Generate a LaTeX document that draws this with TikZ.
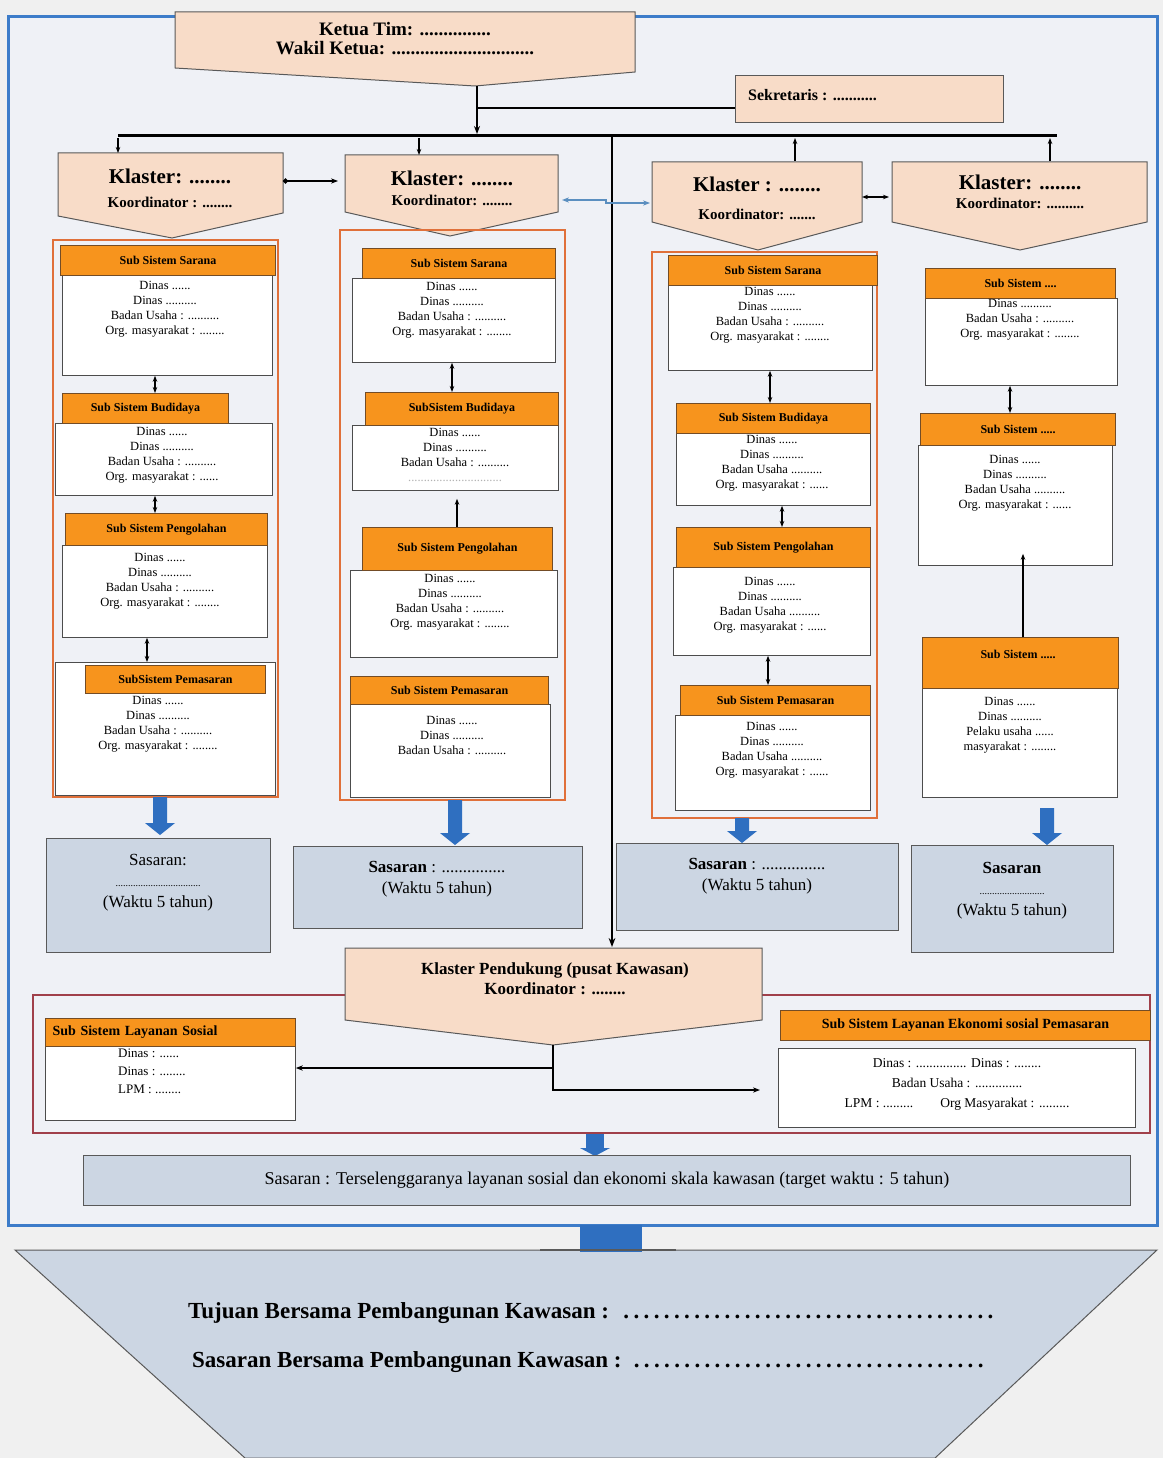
\documentclass[tikz,border=0pt]{standalone}
\usepackage{fontspec}
\setmainfont{Liberation Serif}
\usetikzlibrary{arrows.meta}
\definecolor{peach}{HTML}{F8DCC8}
\definecolor{orng}{HTML}{F7941D}
\definecolor{grp}{HTML}{E0703A}
\definecolor{sas}{HTML}{CCD6E3}
\definecolor{frameblue}{HTML}{3D7CC9}
\definecolor{bg}{HTML}{EFF1F6}
\definecolor{darkred}{HTML}{A0404A}
\definecolor{arrblue}{HTML}{2F6FC0}
\definecolor{steel}{HTML}{5B8FC0}
\newcommand\blkarrow[3]{%
 \fill[arrblue] (#1-7,#2) -- (#1+7,#2) -- (#1+7,#3-12) -- (#1+15,#3-12) -- (#1,#3) -- (#1-15,#3-12) -- (#1-7,#3-12) -- cycle;}
\newcommand\bannerpath[7]{%
 \filldraw[banner] (#1,#2) -- (#3,#2) -- (#3,#5) -- (#6,#7) -- (#1,#4) -- cycle;}
\begin{document}
\begin{tikzpicture}[x=1pt,y=-1pt,
  conn/.style={line width=1.2pt, draw=black},
  dbl/.style={conn, line width=1.6pt, {Stealth[length=6pt]}-{Stealth[length=6pt]}},
  banner/.style={fill=peach, draw=gray!70!black, line width=1pt},
  hdr/.style={draw=brown!60!black, fill=orng, line width=1pt, anchor=north west, inner sep=0pt, font=\fontsize{12}{14}\selectfont\bfseries},
  bodyb/.style={draw=gray!60!black, fill=white, line width=0.8pt, anchor=north west, inner sep=0pt},
  btxt/.style={anchor=north, align=center, inner sep=0pt, font=\fontsize{12.5}{15}\selectfont},
  grpbox/.style={draw=grp, line width=2pt},
  sasbox/.style={draw=gray!70!black, fill=sas, line width=1pt, anchor=north west, inner sep=0pt},
  stxt/.style={anchor=north, align=center, inner sep=0pt, font=\fontsize{17}{21}\selectfont},
  kt/.style={inner sep=0pt, font=\fontsize{21}{24}\selectfont\bfseries},
  kc/.style={inner sep=0pt, font=\fontsize{15}{17}\selectfont\bfseries},
]
\useasboundingbox (0,0) rectangle (1163,1458);
\fill[gray!12] (0,0) rectangle (1163,1458);
\filldraw[fill=bg, draw=frameblue, line width=3pt] (8,17) rectangle (1157,1225);

% Ketua
\bannerpath{175}{12}{635}{68}{72}{475}{86}
\node[inner sep=0pt, align=center, font=\fontsize{19}{19}\selectfont\bfseries] (ketua) at (405,39) {Ketua Tim: ...............\\Wakil Ketua: ..............................};
\coordinate (kb) at (477,86);
\node[draw=gray!70!black, fill=peach, line width=1pt, anchor=north west, minimum width=268, minimum height=47, inner sep=0pt] (sek) at (735,75) {};
\node[anchor=west, inner sep=0pt, font=\fontsize{16}{18}\selectfont\bfseries] (sekt) at (748,95) {Sekretaris : ...........};
\coordinate (barL) at (118,136);
\coordinate (barR) at (1057,136);
\coordinate (kj) at (477,108);
\draw[line width=3pt] (barL) -- (barR);
\draw[conn, line width=2pt, -{Stealth[length=8pt]}] (kb) -- (477,134);
\draw[conn, line width=2pt] (kj) -- (sek.west |- kj);

% Klaster banners
\bannerpath{58}{153}{283}{216}{213}{172}{238}
\node[kt] (k1t) at (170,176) {Klaster: ........};
\node[kc] (k1c) at (170,202) {Koordinator : ........};
\bannerpath{345}{155}{558}{212}{212}{450}{236}
\node[kt] (k2t) at (452,178) {Klaster: ........};
\node[kc] (k2c) at (452,200) {Koordinator: ........};
\bannerpath{652}{162}{862}{222}{222}{758}{250}
\node[kt] (k3t) at (757,184) {Klaster : ........};
\node[kc] (k3c) at (757,214) {Koordinator: .......};
\bannerpath{892}{162}{1147}{222}{222}{1020}{250}
\node[kt] (k4t) at (1020,182) {Klaster: ........};
\node[kc] (k4c) at (1020,203) {Koordinator: ..........};

\draw[conn, -{Stealth[length=6pt]}] (118,138) -- (118,153);
\draw[conn, -{Stealth[length=6pt]}] (419,138) -- (419,155);
\draw[conn, -{Stealth[length=6pt]}] (795,161) -- (795,138);
\draw[conn, -{Stealth[length=6pt]}] (1050,161) -- (1050,138);
\draw[conn, line width=2pt, -{Stealth[length=9pt]}] (612,136) -- (612,947);

\coordinate (k1e) at (283,181); \coordinate (k2w) at (338,181);
\draw[conn, line width=2pt, {Circle[length=5pt]}-{Stealth[length=7pt]}] (k1e) -- (k2w);
\coordinate (k2e) at (562,200); \coordinate (k3w) at (650,203);
\draw[steel, line width=2pt, {Stealth[length=7pt]}-{Stealth[length=7pt]}] (k2e) -- (606,200) -- (606,203) -- (k3w);
\coordinate (k3e) at (862,197); \coordinate (k4w) at (889,197);
\draw[conn, line width=2pt, {Stealth[length=6pt]}-{Stealth[length=6pt]}] (k3e) -- (k4w);

% Cluster groups
\draw[grpbox] (53,240) rectangle (278,797);
\draw[grpbox] (340,230) rectangle (565,800);
\draw[grpbox] (652,252) rectangle (877,818);

% ---- Cluster 1
\node[bodyb, minimum width=210, minimum height=100] (b11) at (62,275) {};
\node[hdr, minimum width=215, minimum height=30] (h11) at (60,245) {Sub Sistem Sarana};
\node[btxt] (t11) at (165,281) {Dinas ......\\Dinas ..........\\Badan Usaha : ..........\\Org. masyarakat : ........};
\node[bodyb, minimum width=217, minimum height=72] (b12) at (55,423) {};
\node[hdr, minimum width=166, minimum height=30] (h12) at (62,393) {Sub Sistem Budidaya};
\node[btxt] (t12) at (162,427) {Dinas ......\\Dinas ..........\\Badan Usaha : ..........\\Org. masyarakat : ......};
\node[bodyb, minimum width=205, minimum height=92] (b13) at (62,545) {};
\node[hdr, minimum width=202, minimum height=32] (h13) at (65,513) {Sub Sistem Pengolahan};
\node[btxt] (t13) at (160,553) {Dinas ......\\Dinas ..........\\Badan Usaha : ..........\\Org. masyarakat : ........};
\node[bodyb, minimum width=220, minimum height=133] (b14) at (55,662) {};
\node[hdr, minimum width=180, minimum height=28] (h14) at (85,665) {SubSistem Pemasaran};
\node[btxt] (t14) at (158,696) {Dinas ......\\Dinas ..........\\Badan Usaha : ..........\\Org. masyarakat : ........};
\draw[dbl] (b11.south -| 155,0) -- (h12.north -| 155,0);
\draw[dbl] (b12.south -| 155,0) -- (h13.north -| 155,0);
\draw[dbl] (b13.south -| 147,0) -- (b14.north -| 147,0);

% ---- Cluster 2
\node[bodyb, minimum width=203, minimum height=84] (b21) at (352,278) {};
\node[hdr, minimum width=193, minimum height=30] (h21) at (362,248) {Sub Sistem Sarana};
\node[btxt] (t21) at (452,282) {Dinas ......\\Dinas ..........\\Badan Usaha : ..........\\Org. masyarakat : ........};
\node[bodyb, minimum width=206, minimum height=65] (b22) at (352,425) {};
\node[hdr, minimum width=193, minimum height=33] (h22) at (365,392) {SubSistem Budidaya};
\node[btxt] (t22) at (455,428) {Dinas ......\\Dinas ..........\\Badan Usaha : ..........\\{\color{gray!60}..............................}};
\node[bodyb, minimum width=207, minimum height=87] (b23) at (350,570) {};
\node[hdr, minimum width=190, minimum height=43] (h23) at (362,527) {Sub Sistem Pengolahan};
\node[btxt] (t23) at (450,574) {Dinas ......\\Dinas ..........\\Badan Usaha : ..........\\Org. masyarakat : ........};
\node[bodyb, minimum width=200, minimum height=93] (b24) at (350,704) {};
\node[hdr, minimum width=198, minimum height=28] (h24) at (350,676) {Sub Sistem Pemasaran};
\node[btxt] (t24) at (452,716) {Dinas ......\\Dinas ..........\\Badan Usaha : ..........};
\draw[dbl] (b21.south -| 452,0) -- (h22.north -| 452,0);
\draw[conn, line width=1.6pt, {Stealth[length=6pt]}-] ([yshift=-8pt]b22.south -| 457,0) -- (h23.north -| 457,0);

% ---- Cluster 3
\node[bodyb, minimum width=204, minimum height=85] (b31) at (668,285) {};
\node[hdr, minimum width=209, minimum height=30] (h31) at (668,255) {Sub Sistem Sarana};
\node[btxt] (t31) at (770,287) {Dinas ......\\Dinas ..........\\Badan Usaha : ..........\\Org. masyarakat : ........};
\node[bodyb, minimum width=194, minimum height=72] (b32) at (676,433) {};
\node[hdr, minimum width=194, minimum height=30] (h32) at (676,403) {Sub Sistem Budidaya};
\node[btxt] (t32) at (772,435) {Dinas ......\\Dinas ..........\\Badan Usaha ..........\\Org. masyarakat : ......};
\node[bodyb, minimum width=197, minimum height=88] (b33) at (673,567) {};
\node[hdr, minimum width=194, minimum height=40] (h33) at (676,527) {Sub Sistem Pengolahan};
\node[btxt] (t33) at (770,577) {Dinas ......\\Dinas ..........\\Badan Usaha ..........\\Org. masyarakat : ......};
\node[bodyb, minimum width=195, minimum height=95] (b34) at (675,715) {};
\node[hdr, minimum width=190, minimum height=30] (h34) at (680,685) {Sub Sistem Pemasaran};
\node[btxt] (t34) at (772,722) {Dinas ......\\Dinas ..........\\Badan Usaha ..........\\Org. masyarakat : ......};
\draw[dbl] (b31.south -| 770,0) -- (h32.north -| 770,0);
\draw[dbl] (b32.south -| 782,0) -- (h33.north -| 782,0);
\draw[dbl] (b33.south -| 768,0) -- (h34.north -| 768,0);

% ---- Cluster 4
\node[bodyb, minimum width=192, minimum height=87] (b41) at (925,298) {};
\node[hdr, minimum width=190, minimum height=30] (h41) at (925,268) {Sub Sistem ....};
\node[btxt] (t41) at (1020,299) {Dinas ..........\\Badan Usaha : ..........\\Org. masyarakat : ........};
\node[bodyb, minimum width=194, minimum height=120] (b42) at (918,445) {};
\node[hdr, minimum width=195, minimum height=32] (h42) at (920,413) {Sub Sistem .....};
\node[btxt] (t42) at (1015,455) {Dinas ......\\Dinas ..........\\Badan Usaha ..........\\Org. masyarakat : ......};
\node[bodyb, minimum width=195, minimum height=109] (b43) at (922,688) {};
\node[hdr, minimum width=196, minimum height=51] (h43) at (922,637) {};
\node[inner sep=0pt, font=\fontsize{12}{14}\selectfont\bfseries] (h43t) at (1018,654) {Sub Sistem .....};
\node[btxt] (t43) at (1010,697) {Dinas ......\\Dinas ..........\\Pelaku usaha ......\\masyarakat : ........};
\draw[dbl] (b41.south -| 1010,0) -- (h42.north -| 1010,0);
\draw[conn, -{Stealth[length=6pt]}] (h43.north -| 1023,0) -- ([yshift=12pt]b42.south -| 1023,0);

% Block arrows
\blkarrow{160}{797}{835}
\blkarrow{455}{800}{845}
\blkarrow{742}{818}{843}
\blkarrow{1047}{808}{845}

% Sasaran boxes
\node[sasbox, minimum width=224, minimum height=114] (s1) at (46,838) {};
\node[stxt] (s1t) at (158,854) {Sasaran:\\{\fontsize{10}{12}\selectfont ..................................}\\(Waktu 5 tahun)};
\node[sasbox, minimum width=289, minimum height=82] (s2) at (293,846) {};
\node[stxt] (s2t) at (437,861) {\textbf{Sasaran} : ...............\\(Waktu 5 tahun)};
\node[sasbox, minimum width=282, minimum height=87] (s3) at (616,843) {};
\node[stxt] (s3t) at (757,858) {\textbf{Sasaran} : ...............\\(Waktu 5 tahun)};
\node[sasbox, minimum width=202, minimum height=107] (s4) at (911,845) {};
\node[stxt] (s4t) at (1012,862) {\textbf{Sasaran}\\{\fontsize{10}{12}\selectfont ..........................}\\(Waktu 5 tahun)};

% Klaster pendukung
\draw[draw=darkred, line width=2pt] (33,995) rectangle (1150,1133);
\bannerpath{345}{948}{762}{1020}{1020}{553}{1045}
\node[inner sep=0pt, align=center, font=\fontsize{17}{20}\selectfont\bfseries] (kp) at (555,979) {Klaster Pendukung (pusat Kawasan)\\Koordinator : ........};
\coordinate (pd) at (553,1045);

\node[bodyb, minimum width=250, minimum height=74] (lsb) at (45,1046) {};
\node[hdr, minimum width=250, minimum height=28, align=left, text width=236, font=\fontsize{14}{16}\selectfont\bfseries] (lsh) at (45,1018) {Sub Sistem Layanan Sosial};
\node[anchor=north west, align=left, inner sep=0pt, font=\fontsize{13}{18}\selectfont] (lst) at (118,1049) {Dinas : ......\\Dinas : ........\\LPM : ........};
\node[bodyb, minimum width=357, minimum height=79] (lekb) at (778,1048) {};
\node[hdr, minimum width=370, minimum height=30, font=\fontsize{14}{16}\selectfont\bfseries] (lekh) at (780,1010) {Sub Sistem Layanan Ekonomi sosial Pemasaran};
\node[btxt, font=\fontsize{13.5}{20}\selectfont] (lekt) at (957,1058) {Dinas : ............... Dinas : ........\\Badan Usaha : ..............\\LPM : .........\qquad Org Masyarakat : .........};
\coordinate (j1) at (553,1068);
\coordinate (j2) at (553,1090);
\draw[conn, -{Stealth[length=7pt]}] (pd) -- (j1) -- (j1 -| lsb.east);
\draw[conn, -{Stealth[length=7pt]}] (j1) -- (j2) -- ([xshift=-18pt]j2 -| lekb.west);

\fill[arrblue] (586,1134) rectangle (604,1148);
\fill[arrblue] (580,1148) -- (610,1148) -- (595,1156) -- cycle;
\node[draw=gray!70!black, fill=sas, line width=1pt, anchor=north west, minimum width=1047, minimum height=50, inner sep=0pt, font=\fontsize{18}{20}\selectfont] (sfin) at (83,1155) {Sasaran : Terselenggaranya layanan sosial dan ekonomi skala kawasan (target waktu : 5 tahun)};

% Bottom trapezoid
\filldraw[fill=sas, draw=gray!70!black, line width=1pt] (15,1250) -- (1157,1250) -- (935,1458) -- (245,1458) -- cycle;
\fill[arrblue] (580,1225) rectangle (642,1252);
\draw[gray!70!black, line width=1.5pt] (540,1250) -- (676,1250);
\node[anchor=west, inner sep=0pt, font=\fontsize{23}{26}\selectfont\bfseries] (tuj) at (188,1313) {\parbox{812pt}{Tujuan Bersama Pembangunan Kawasan : \dotfill}};
\node[anchor=west, inner sep=0pt, font=\fontsize{23}{26}\selectfont\bfseries] (sbr) at (192,1362) {\parbox{796pt}{Sasaran Bersama Pembangunan Kawasan : \dotfill}};
\end{tikzpicture}
\end{document}
